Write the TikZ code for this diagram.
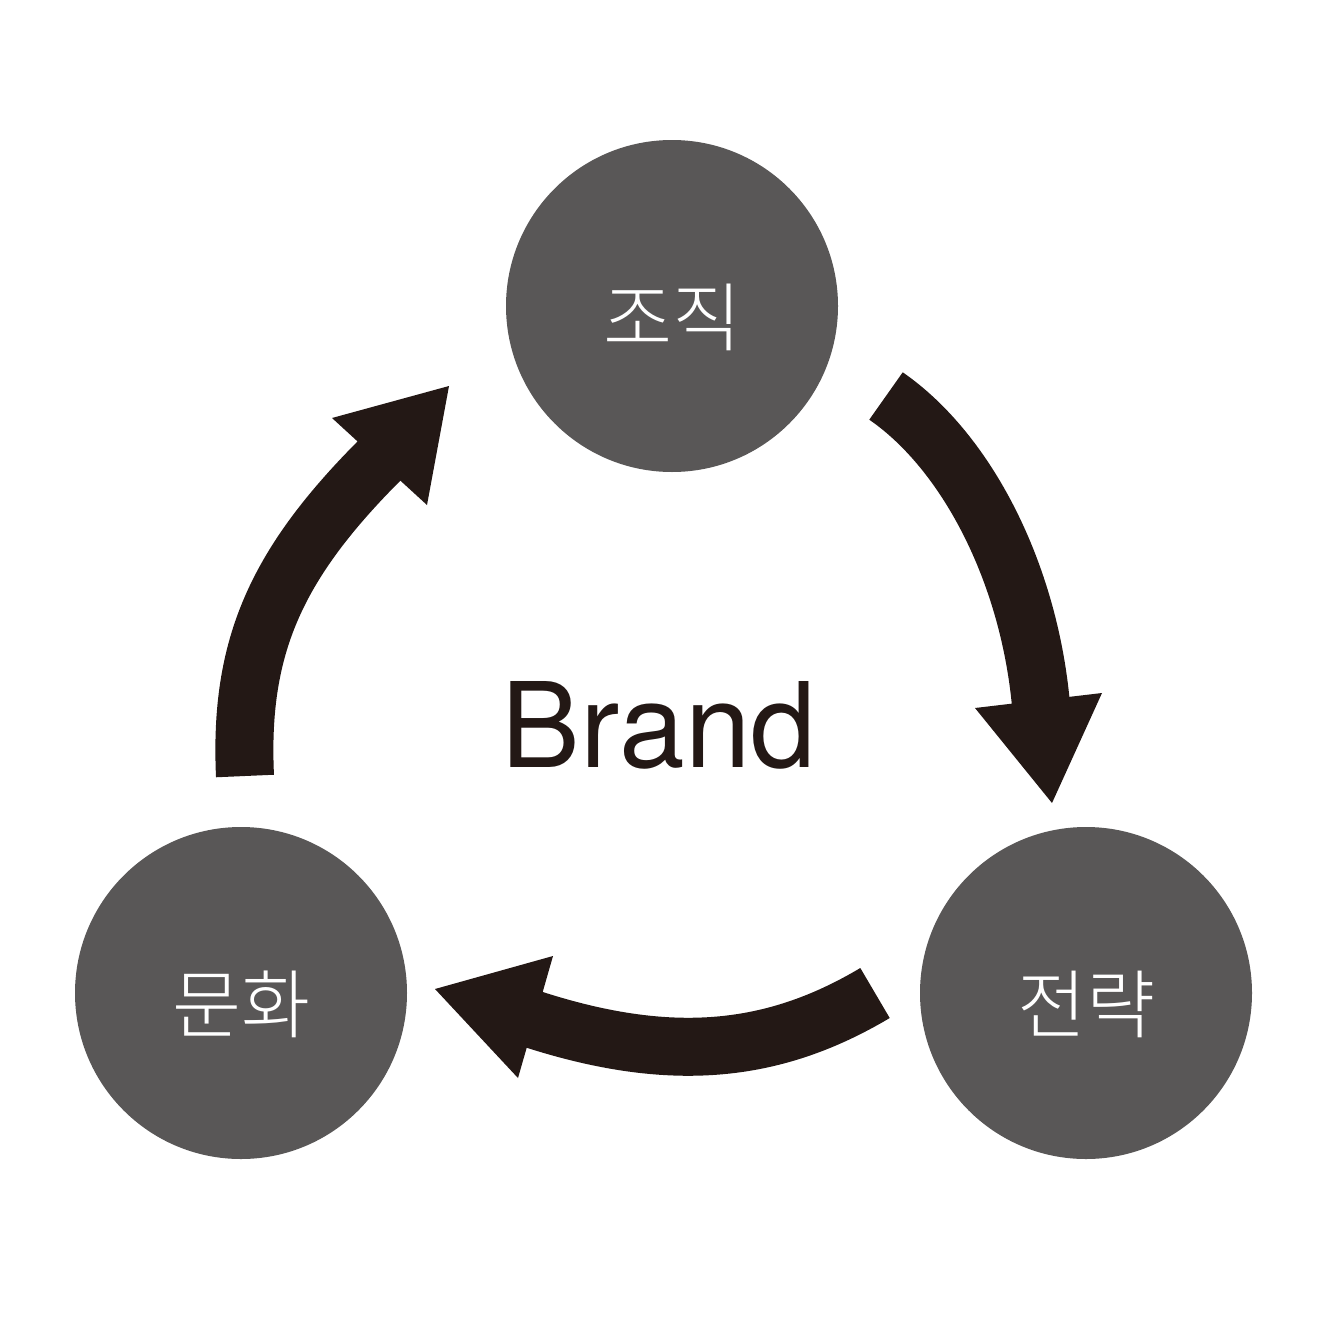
\documentclass[tikz,border=0pt]{standalone}
\usepackage{fontspec}
\setmainfont{TeX Gyre Heros}
\newfontfamily\krfont{Noto Sans CJK KR Light}
\definecolor{arrowblack}{HTML}{231815}
\definecolor{circlegray}{HTML}{595757}
\begin{document}
\begin{tikzpicture}[x=1pt,y=-1pt,
  topic/.style={circle,fill=circlegray,minimum size=332pt,inner sep=0pt},
  topiclabel/.style={text=white,font=\krfont\fontsize{75}{82}\selectfont,inner sep=0pt},
  bandarrow/.style={draw=arrowblack,line width=58pt,line cap=butt},
  headtip/.style={fill=arrowblack}]
\useasboundingbox (0,0) rectangle (1320,1322);
\fill[white] (0,0) rectangle (1320,1322);
% circles
\node[topic] (org) at (672,306) {};
\node[topic] (strat) at (1086,993) {};
\node[topic] (cult) at (241,993) {};
\node[topiclabel] (orgtxt) at ([yshift=-11pt]org.center) {조직};
\node[topiclabel] (strattxt) at ([yshift=-11pt]strat.center) {전략};
\node[topiclabel] (culttxt) at ([yshift=-11pt]cult.center) {문화};
% center text
\node[text=arrowblack,font=\fontsize{118}{130}\selectfont,inner sep=0pt,anchor=base] (brand) at (659,767) {Brand};
% arrow coordinates
\coordinate (a1s) at (886,396);
\coordinate (a1e) at (1041,705);
\coordinate (a2s) at (875,993);
\coordinate (a2e) at (532,1019);
\coordinate (a3s) at (245,776);
\coordinate (a3e) at (384,456);
% arrow 1: organisation -> strategy
\draw[bandarrow] (a1s) .. controls (967,452) and (1029,573) .. (a1e);
\fill[headtip] (975,708) -- (1102,693) -- (1052,803) -- cycle;
% arrow 2: strategy -> culture
\draw[bandarrow] (a2s) .. controls (771,1055) and (668,1063) .. (a2e);
\fill[headtip] (553,956) -- (518,1078) -- (435,989) -- cycle;
% arrow 3: culture -> organisation
\draw[bandarrow] (a3s) .. controls (239,646) and (276,563) .. (a3e);
\fill[headtip] (332,418) -- (449,386) -- (427,505) -- cycle;
\end{tikzpicture}
\end{document}
